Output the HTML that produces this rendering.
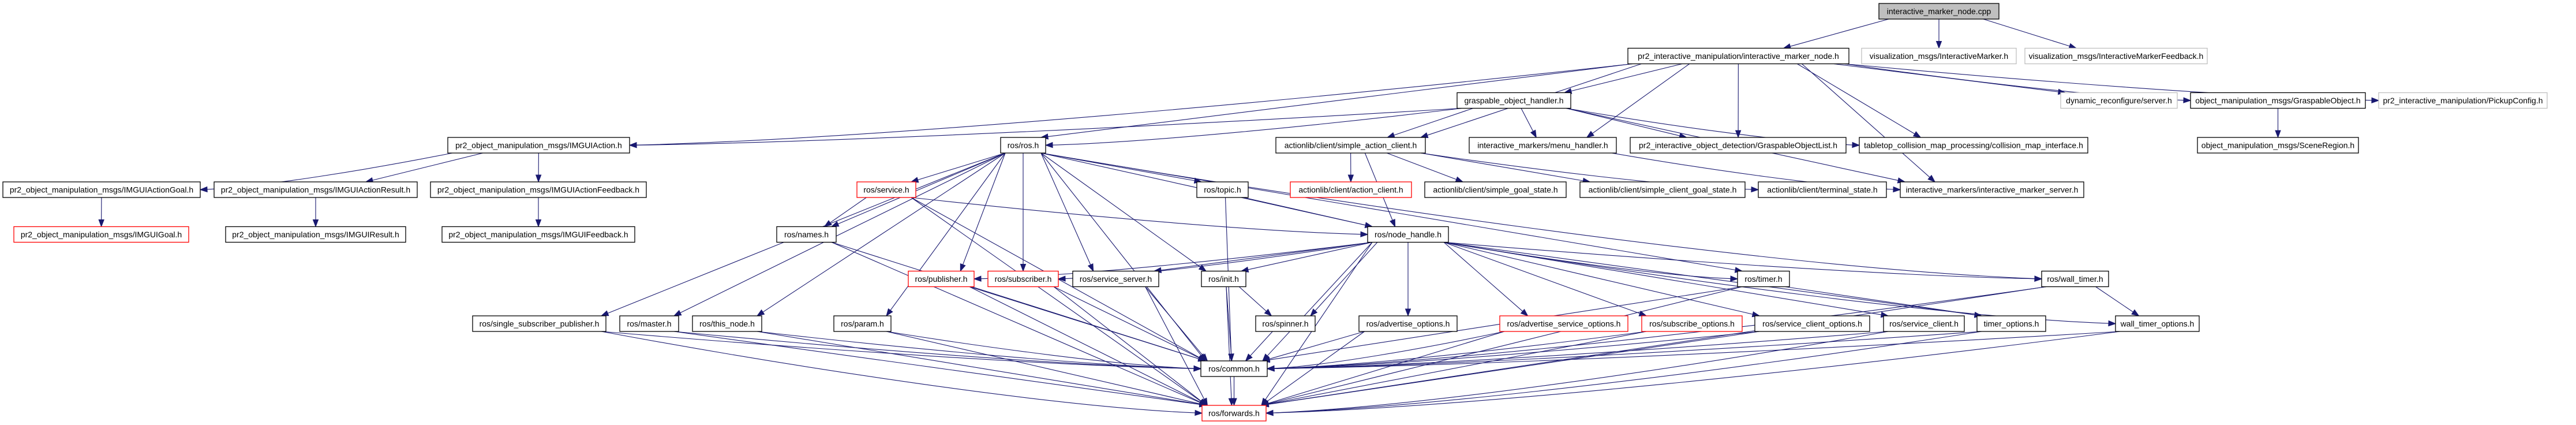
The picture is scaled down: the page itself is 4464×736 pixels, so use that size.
<!DOCTYPE html>
<html><head><meta charset="utf-8">
<style>
html,body{margin:0;padding:0;background:#fff;width:4464px;height:736px;overflow:hidden}
svg{display:block}
text{font-family:"Liberation Sans",sans-serif;font-size:14px;fill:#000}
</style></head>
<body>
<svg id="g" width="4464" height="736" viewBox="0 0 4464 736" xmlns="http://www.w3.org/2000/svg">
<g id="edges" fill="none" stroke="#191970" stroke-width="1.1"></g>
<g id="heads" fill="#191970" stroke="#191970" stroke-width="1"></g>
<g id="nodes">
<rect x="3256" y="6" width="208" height="27" fill="#bfbfbf" stroke="#000" stroke-width="1.3"/><text x="3360" y="24.5" text-anchor="middle">interactive_marker_node.cpp</text>
<rect x="2821" y="83.5" width="383" height="27" fill="#fff" stroke="#000" stroke-width="1.3"/><text x="3012.5" y="102" text-anchor="middle">pr2_interactive_manipulation/interactive_marker_node.h</text>
<rect x="3226" y="83.5" width="268" height="27" fill="#fff" stroke="#bfbfbf" stroke-width="1.3"/><text x="3360" y="102" text-anchor="middle">visualization_msgs/InteractiveMarker.h</text>
<rect x="3509" y="83.5" width="316" height="27" fill="#fff" stroke="#bfbfbf" stroke-width="1.3"/><text x="3667" y="102" text-anchor="middle">visualization_msgs/InteractiveMarkerFeedback.h</text>
<rect x="2525" y="160.5" width="197" height="27" fill="#fff" stroke="#000" stroke-width="1.3"/><text x="2623.5" y="179" text-anchor="middle">graspable_object_handler.h</text>
<rect x="3571" y="160.5" width="202" height="27" fill="#fff" stroke="#bfbfbf" stroke-width="1.3"/><text x="3672" y="179" text-anchor="middle">dynamic_reconfigure/server.h</text>
<rect x="3796" y="160.5" width="303" height="27" fill="#fff" stroke="#000" stroke-width="1.3"/><text x="3947.5" y="179" text-anchor="middle">object_manipulation_msgs/GraspableObject.h</text>
<rect x="4122" y="160.5" width="292" height="27" fill="#fff" stroke="#bfbfbf" stroke-width="1.3"/><text x="4268" y="179" text-anchor="middle">pr2_interactive_manipulation/PickupConfig.h</text>
<rect x="776" y="238" width="315" height="27" fill="#fff" stroke="#000" stroke-width="1.3"/><text x="933.5" y="256.5" text-anchor="middle">pr2_object_manipulation_msgs/IMGUIAction.h</text>
<rect x="1734" y="238" width="78" height="27" fill="#fff" stroke="#000" stroke-width="1.3"/><text x="1773" y="256.5" text-anchor="middle">ros/ros.h</text>
<rect x="2211" y="238" width="259" height="27" fill="#fff" stroke="#000" stroke-width="1.3"/><text x="2340.5" y="256.5" text-anchor="middle">actionlib/client/simple_action_client.h</text>
<rect x="2546" y="238" width="255" height="27" fill="#fff" stroke="#000" stroke-width="1.3"/><text x="2673.5" y="256.5" text-anchor="middle">interactive_markers/menu_handler.h</text>
<rect x="2825" y="238" width="374" height="27" fill="#fff" stroke="#000" stroke-width="1.3"/><text x="3012" y="256.5" text-anchor="middle">pr2_interactive_object_detection/GraspableObjectList.h</text>
<rect x="3222" y="238" width="396" height="27" fill="#fff" stroke="#000" stroke-width="1.3"/><text x="3420" y="256.5" text-anchor="middle">tabletop_collision_map_processing/collision_map_interface.h</text>
<rect x="3808" y="238" width="279" height="27" fill="#fff" stroke="#000" stroke-width="1.3"/><text x="3947.5" y="256.5" text-anchor="middle">object_manipulation_msgs/SceneRegion.h</text>
<rect x="5" y="315" width="342" height="27" fill="#fff" stroke="#000" stroke-width="1.3"/><text x="176" y="333.5" text-anchor="middle">pr2_object_manipulation_msgs/IMGUIActionGoal.h</text>
<rect x="371" y="315" width="352" height="27" fill="#fff" stroke="#000" stroke-width="1.3"/><text x="547" y="333.5" text-anchor="middle">pr2_object_manipulation_msgs/IMGUIActionResult.h</text>
<rect x="746" y="315" width="374" height="27" fill="#fff" stroke="#000" stroke-width="1.3"/><text x="933" y="333.5" text-anchor="middle">pr2_object_manipulation_msgs/IMGUIActionFeedback.h</text>
<rect x="1485" y="315" width="102" height="27" fill="#fff" stroke="#ff0000" stroke-width="1.3"/><text x="1536" y="333.5" text-anchor="middle">ros/service.h</text>
<rect x="2074" y="315" width="89" height="27" fill="#fff" stroke="#000" stroke-width="1.3"/><text x="2118.5" y="333.5" text-anchor="middle">ros/topic.h</text>
<rect x="2236" y="315" width="210" height="27" fill="#fff" stroke="#ff0000" stroke-width="1.3"/><text x="2341" y="333.5" text-anchor="middle">actionlib/client/action_client.h</text>
<rect x="2469" y="315" width="245" height="27" fill="#fff" stroke="#000" stroke-width="1.3"/><text x="2591.5" y="333.5" text-anchor="middle">actionlib/client/simple_goal_state.h</text>
<rect x="2738" y="315" width="286" height="27" fill="#fff" stroke="#000" stroke-width="1.3"/><text x="2881" y="333.5" text-anchor="middle">actionlib/client/simple_client_goal_state.h</text>
<rect x="3047" y="315" width="222" height="27" fill="#fff" stroke="#000" stroke-width="1.3"/><text x="3158" y="333.5" text-anchor="middle">actionlib/client/terminal_state.h</text>
<rect x="3293" y="315" width="318" height="27" fill="#fff" stroke="#000" stroke-width="1.3"/><text x="3452" y="333.5" text-anchor="middle">interactive_markers/interactive_marker_server.h</text>
<rect x="24" y="392.5" width="303" height="27" fill="#fff" stroke="#ff0000" stroke-width="1.3"/><text x="175.5" y="411" text-anchor="middle">pr2_object_manipulation_msgs/IMGUIGoal.h</text>
<rect x="391" y="392.5" width="312" height="27" fill="#fff" stroke="#000" stroke-width="1.3"/><text x="547" y="411" text-anchor="middle">pr2_object_manipulation_msgs/IMGUIResult.h</text>
<rect x="766" y="392.5" width="334" height="27" fill="#fff" stroke="#000" stroke-width="1.3"/><text x="933" y="411" text-anchor="middle">pr2_object_manipulation_msgs/IMGUIFeedback.h</text>
<rect x="1346" y="392.5" width="103" height="27" fill="#fff" stroke="#000" stroke-width="1.3"/><text x="1397.5" y="411" text-anchor="middle">ros/names.h</text>
<rect x="2370" y="392.5" width="140" height="27" fill="#fff" stroke="#000" stroke-width="1.3"/><text x="2440" y="411" text-anchor="middle">ros/node_handle.h</text>
<rect x="1574" y="469.5" width="114" height="27" fill="#fff" stroke="#ff0000" stroke-width="1.3"/><text x="1631" y="488" text-anchor="middle">ros/publisher.h</text>
<rect x="1712" y="469.5" width="122" height="27" fill="#fff" stroke="#ff0000" stroke-width="1.3"/><text x="1773" y="488" text-anchor="middle">ros/subscriber.h</text>
<rect x="1859" y="469.5" width="149" height="27" fill="#fff" stroke="#000" stroke-width="1.3"/><text x="1933.5" y="488" text-anchor="middle">ros/service_server.h</text>
<rect x="2082" y="469.5" width="77" height="27" fill="#fff" stroke="#000" stroke-width="1.3"/><text x="2120.5" y="488" text-anchor="middle">ros/init.h</text>
<rect x="3011" y="469.5" width="90" height="27" fill="#fff" stroke="#000" stroke-width="1.3"/><text x="3056" y="488" text-anchor="middle">ros/timer.h</text>
<rect x="3538" y="469.5" width="116" height="27" fill="#fff" stroke="#000" stroke-width="1.3"/><text x="3596" y="488" text-anchor="middle">ros/wall_timer.h</text>
<rect x="819" y="547" width="231" height="27" fill="#fff" stroke="#000" stroke-width="1.3"/><text x="934.5" y="565.5" text-anchor="middle">ros/single_subscriber_publisher.h</text>
<rect x="1074" y="547" width="102" height="27" fill="#fff" stroke="#000" stroke-width="1.3"/><text x="1125" y="565.5" text-anchor="middle">ros/master.h</text>
<rect x="1200" y="547" width="120" height="27" fill="#fff" stroke="#000" stroke-width="1.3"/><text x="1260" y="565.5" text-anchor="middle">ros/this_node.h</text>
<rect x="1445" y="547" width="99" height="27" fill="#fff" stroke="#000" stroke-width="1.3"/><text x="1494.5" y="565.5" text-anchor="middle">ros/param.h</text>
<rect x="2176" y="547" width="103" height="27" fill="#fff" stroke="#000" stroke-width="1.3"/><text x="2227.5" y="565.5" text-anchor="middle">ros/spinner.h</text>
<rect x="2355" y="547" width="170" height="27" fill="#fff" stroke="#000" stroke-width="1.3"/><text x="2440" y="565.5" text-anchor="middle">ros/advertise_options.h</text>
<rect x="2599" y="547" width="222" height="27" fill="#fff" stroke="#ff0000" stroke-width="1.3"/><text x="2710" y="565.5" text-anchor="middle">ros/advertise_service_options.h</text>
<rect x="2845" y="547" width="174" height="27" fill="#fff" stroke="#ff0000" stroke-width="1.3"/><text x="2932" y="565.5" text-anchor="middle">ros/subscribe_options.h</text>
<rect x="3041" y="547" width="199" height="27" fill="#fff" stroke="#000" stroke-width="1.3"/><text x="3140.5" y="565.5" text-anchor="middle">ros/service_client_options.h</text>
<rect x="3264" y="547" width="140" height="27" fill="#fff" stroke="#000" stroke-width="1.3"/><text x="3334" y="565.5" text-anchor="middle">ros/service_client.h</text>
<rect x="3426" y="547" width="119" height="27" fill="#fff" stroke="#000" stroke-width="1.3"/><text x="3485.5" y="565.5" text-anchor="middle">timer_options.h</text>
<rect x="3666" y="547" width="145" height="27" fill="#fff" stroke="#000" stroke-width="1.3"/><text x="3738.5" y="565.5" text-anchor="middle">wall_timer_options.h</text>
<rect x="2081" y="625" width="115" height="27" fill="#fff" stroke="#000" stroke-width="1.3"/><text x="2138.5" y="643.5" text-anchor="middle">ros/common.h</text>
<rect x="2083" y="702" width="111" height="27" fill="#fff" stroke="#ff0000" stroke-width="1.3"/><text x="2138.5" y="720.5" text-anchor="middle">ros/forwards.h</text>
</g>
</svg>
<script>
var R=[6,83.5,160.5,238,315,392.5,469.5,547,625,702],H=27;
var N={root:[3256,3464,0],imn:[2821,3204,1],vim:[3226,3494,1],vimf:[3509,3825,1],goh:[2525,2722,2],dyn:[3571,3773,2],gobj:[3796,4099,2],pick:[4122,4414,2],
imgui:[776,1091,3],ros:[1734,1812,3],sac:[2211,2470,3],menu:[2546,2801,3],gol:[2825,3199,3],cmi:[3222,3618,3],scene:[3808,4087,3],
agoal:[5,347,4],ares:[371,723,4],afb:[746,1120,4],srv:[1485,1587,4],topic:[2074,2163,4],ac:[2236,2446,4],sgs:[2469,2714,4],scgs:[2738,3024,4],ts:[3047,3269,4],ims:[3293,3611,4],
igoal:[24,327,5],ires:[391,703,5],ifb:[766,1100,5],names:[1346,1449,5],nh:[2370,2510,5],
pub:[1574,1688,6],sub:[1712,1834,6],ss:[1859,2008,6],init:[2082,2159,6],timer:[3011,3101,6],wt:[3538,3654,6],
ssp:[819,1050,7],master:[1074,1176,7],thisn:[1200,1320,7],param:[1445,1544,7],spin:[2176,2279,7],adv:[2355,2525,7],aso:[2599,2821,7],so:[2845,3019,7],sco:[3041,3240,7],sc:[3264,3404,7],to:[3426,3545,7],wto:[3666,3811,7],
common:[2081,2196,8],fwd:[2083,2194,9]};
var E="root>imn root>vim root>vimf imn>imgui imn>ros imn>goh imn>sac imn>menu imn>gol imn>cmi imn>ims imn>dyn imn>gobj imn>pick "+
"goh>imgui goh>ros goh>sac goh>menu goh>gol goh>cmi goh>ims sac>ac sac>sgs sac>scgs sac>ts sac>nh menu>ims gobj>scene "+
"imgui>agoal imgui>ares imgui>afb agoal>igoal ares>ires afb>ifb "+
"ros>ssp ros>master ros>thisn ros>param ros>names ros>srv ros>pub ros>sub ros>ss ros>init ros>topic ros>nh ros>common ros>timer ros>wt "+
"srv>names srv>nh srv>common srv>fwd names>common names>fwd topic>nh topic>common "+
"nh>pub nh>sub nh>ss nh>init nh>spin nh>common nh>fwd nh>adv nh>aso nh>so nh>sco nh>sc nh>to nh>wto nh>timer nh>wt "+
"init>spin init>common init>fwd timer>to timer>common timer>fwd wt>wto wt>common wt>fwd "+
"pub>common pub>fwd sub>common sub>fwd ss>common ss>fwd ssp>common ssp>fwd master>common master>fwd thisn>common thisn>fwd param>common param>fwd "+
"spin>common adv>common adv>fwd aso>common aso>fwd so>common so>fwd sco>common sco>fwd sc>common sc>fwd to>common to>fwd wto>common wto>fwd common>fwd";
var eg=document.getElementById('edges'),hg=document.getElementById('heads'),NS='http://www.w3.org/2000/svg';
function cl(v,a,b){return Math.max(a,Math.min(b,v));}
E.split(' ').forEach(function(e){
 var p=e.split('>'),s=N[p[0]],t=N[p[1]];if(!s||!t)return;
 var sy=R[s[2]]+H,ty=R[t[2]],scx=(s[0]+s[1])/2,tcx=(t[0]+t[1])/2;
 var dy=ty-sy,tx,tY,sx,c1,c2;
 sx=cl(scx+(tcx-scx)*0.25,s[0]+8,s[1]-8);
 var side=Math.abs(tcx-sx)>(t[1]-t[0])/2+8*dy;
 if(side){
   var right=sx>tcx; tx=right?t[1]:t[0]; tY=ty+H/2;
   var dx=tx-sx;
   c1=[sx+dx*0.33,sy+(tY-sy)*0.45];
   c2=[tx-dx*0.25,tY-(tY-sy)*0.08];
 }else{
   tx=cl(tcx-(tcx-sx)*0.3,t[0]+8,t[1]-8);tY=ty;
   c1=[sx+(tx-sx)*0.3,sy+dy*0.3];c2=[sx+(tx-sx)*0.7,sy+dy*0.7];
 }
 var dirx=tx-c2[0],diry=tY-c2[1],L=Math.hypot(dirx,diry)||1;dirx/=L;diry/=L;
 var al=12,aw=4.5,bx=tx-dirx*al,by=tY-diry*al;
 var pth=document.createElementNS(NS,'path');
 pth.setAttribute('d','M'+sx+','+sy+' C'+c1[0]+','+c1[1]+' '+c2[0]+','+c2[1]+' '+bx+','+by);
 eg.appendChild(pth);
 var h=document.createElementNS(NS,'polygon');
 h.setAttribute('points',tx+','+tY+' '+(bx-diry*aw)+','+(by+dirx*aw)+' '+(bx+diry*aw)+','+(by-dirx*aw));
 hg.appendChild(h);
});
</script>
</body></html>
